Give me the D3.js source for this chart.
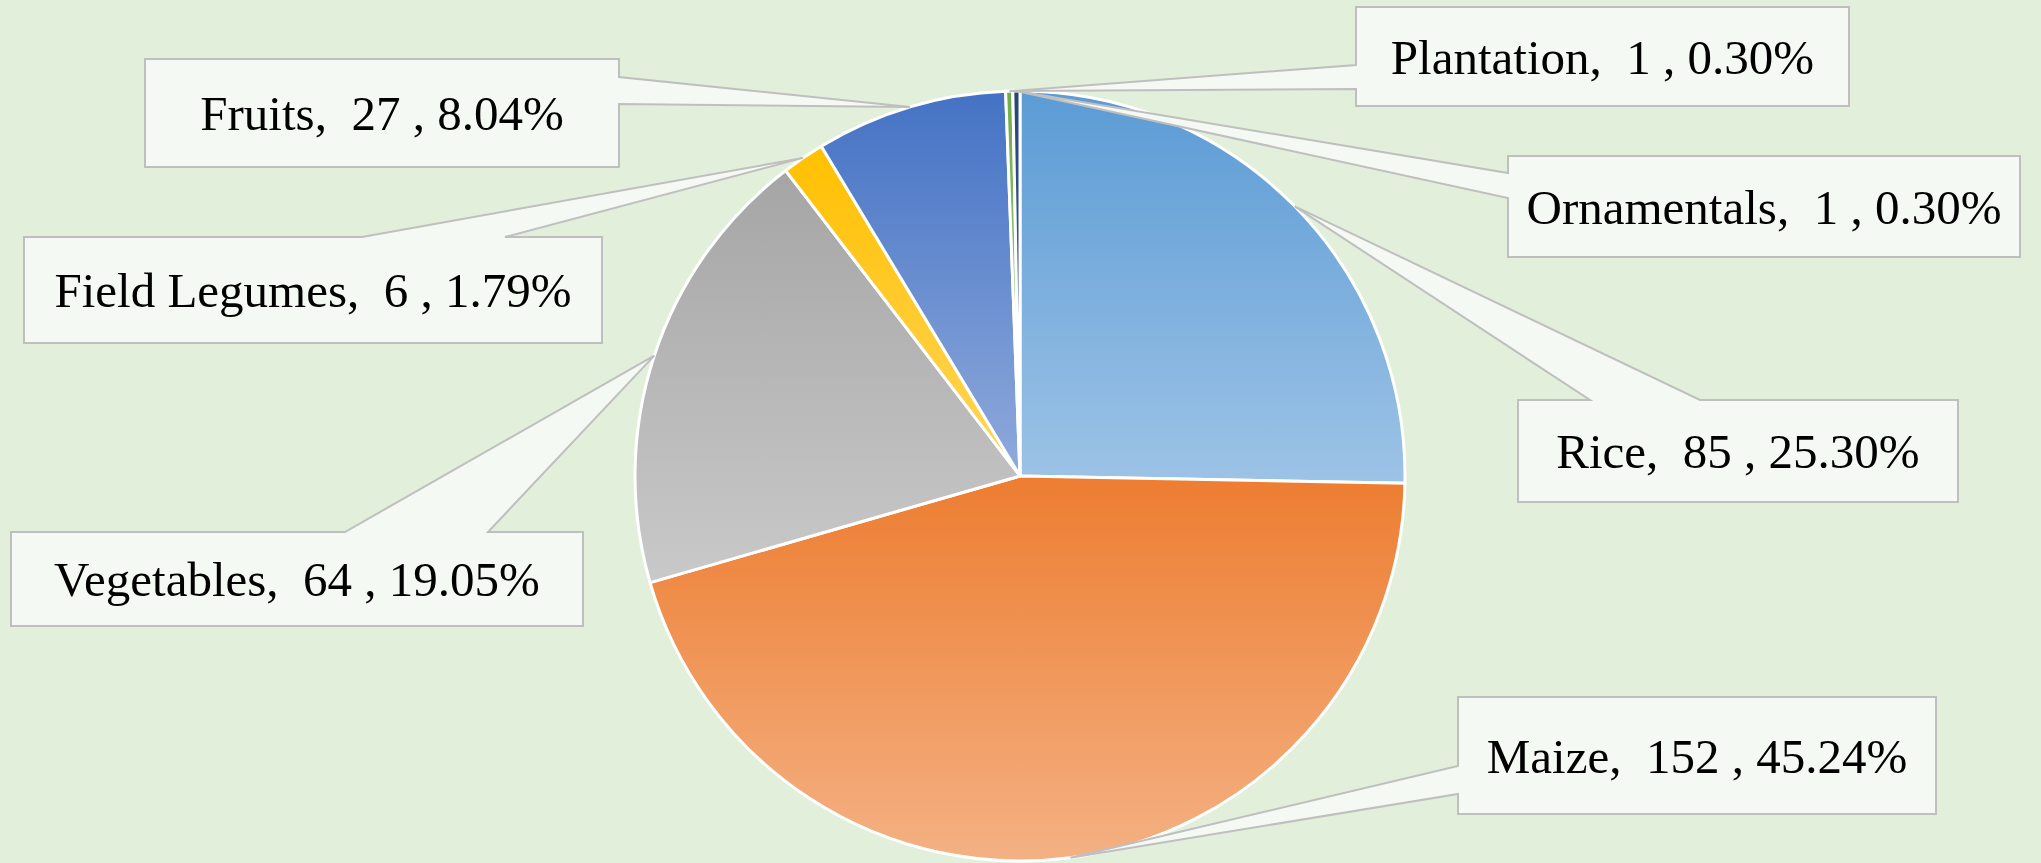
<!DOCTYPE html>
<html>
<head>
<meta charset="utf-8">
<script src="https://cdn.jsdelivr.net/npm/d3@7"></script>
<style>
  body { margin: 0; background: #E2EFDA; }
  svg { display: block; }
</style>
</head>
<body>
<div id="chart"></div>
<script>
// data
const categories = ["Rice", "Maize", "Vegetables", "Field Legumes", "Fruits", "Plantation", "Ornamentals"];
const counts = [85, 152, 64, 6, 27, 1, 1];
const topColors = ["#5B9BD5", "#ED7D31", "#A5A5A5", "#FFC000", "#4472C4", "#70AD47", "#264478"];
const bottomColors = ["#9DC3E6", "#F4B183", "#C9C9C9", "#FFD65C", "#8FAADC", "#A9D18E", "#4A6BA6"];

// where Excel dropped each callout box (x, y, w, h, side with the pointer, pointer base)
const boxes = [
  {x: 1518, y: 400, w: 440, h: 102, side: "top",   a: 1590, b: 1700},
  {x: 1458, y: 697, w: 478, h: 117, side: "left",  a: 766,  b: 794},
  {x: 11,   y: 532, w: 572, h: 94,  side: "top",   a: 345,  b: 488},
  {x: 24,   y: 237, w: 578, h: 106, side: "top",   a: 362,  b: 505},
  {x: 145,  y: 59,  w: 474, h: 108, side: "right", a: 77,   b: 104},
  {x: 1356, y: 7,   w: 493, h: 99,  side: "left",  a: 65,   b: 89},
  {x: 1508, y: 156, w: 512, h: 101, side: "left",  a: 173,  b: 198}
];

const width = 2041, height = 863;
const cx = 1020, cy = 476, radius = 385;

const svg = d3.select("#chart")
  .append("svg")
    .attr("width", width)
    .attr("height", height);

svg.append("rect")
    .attr("width", width)
    .attr("height", height)
    .attr("fill", "#E2EFDA");

// one vertical gradient per slice, spread over the slice's own box
const defs = svg.append("defs");
categories.forEach((c, i) => {
  const g = defs.append("linearGradient")
      .attr("id", "grad" + i)
      .attr("x1", 0).attr("y1", 0)
      .attr("x2", 0).attr("y2", 1);
  g.append("stop").attr("offset", "0%").attr("stop-color", topColors[i]);
  g.append("stop").attr("offset", "100%").attr("stop-color", bottomColors[i]);
});

const total = d3.sum(counts);
const pct = d3.format(".2%");

const pie = d3.pie()
    .sort(null)
    .value(d => d.value);

const data = categories.map((c, i) => ({name: c, value: counts[i], i: i}));
const arcs = pie(data);

const arc = d3.arc().innerRadius(0).outerRadius(radius);
const edge = d3.arc().innerRadius(radius).outerRadius(radius);

const g = svg.append("g")
    .attr("transform", `translate(${cx},${cy})`);

g.selectAll("path.slice")
  .data(arcs)
  .join("path")
    .attr("class", "slice")
    .attr("d", arc)
    .attr("fill", d => `url(#grad${d.data.i})`)
    .attr("stroke", "#ffffff")
    .attr("stroke-width", 3)
    .attr("stroke-linejoin", "round");

// callout shape: box with a wedge running to the slice edge
function callout(b, tip) {
  const x0 = b.x, y0 = b.y, x1 = b.x + b.w, y1 = b.y + b.h;
  const p = d3.path();
  p.moveTo(x0, y0);
  if (b.side === "top") {
    p.lineTo(b.a, y0); p.lineTo(tip[0], tip[1]); p.lineTo(b.b, y0);
  }
  p.lineTo(x1, y0);
  if (b.side === "right") {
    p.lineTo(x1, b.a); p.lineTo(tip[0], tip[1]); p.lineTo(x1, b.b);
  }
  p.lineTo(x1, y1);
  p.lineTo(x0, y1);
  if (b.side === "left") {
    p.lineTo(x0, b.b); p.lineTo(tip[0], tip[1]); p.lineTo(x0, b.a);
  }
  p.closePath();
  return p.toString();
}

const labels = svg.append("g");

arcs.forEach((d, i) => {
  const b = boxes[i];
  const c = edge.centroid(d);
  const tip = [cx + c[0], cy + c[1]];

  labels.append("path")
      .attr("d", callout(b, tip))
      .attr("fill", "#F5F9F3")
      .attr("stroke", "#BFBFBF")
      .attr("stroke-width", 2)
      .attr("stroke-linejoin", "miter");

  labels.append("text")
      .attr("x", b.x + b.w / 2)
      .attr("y", b.y + b.h / 2 + 17)
      .attr("text-anchor", "middle")
      .style("font-family", "'Liberation Serif', 'DejaVu Serif', serif")
      .style("font-size", "49px")
      .style("white-space", "pre")
      .attr("fill", "#000000")
      .text(`${d.data.name},  ${d.data.value} , ${pct(d.data.value / total)}`);
});
</script>
</body>
</html>
